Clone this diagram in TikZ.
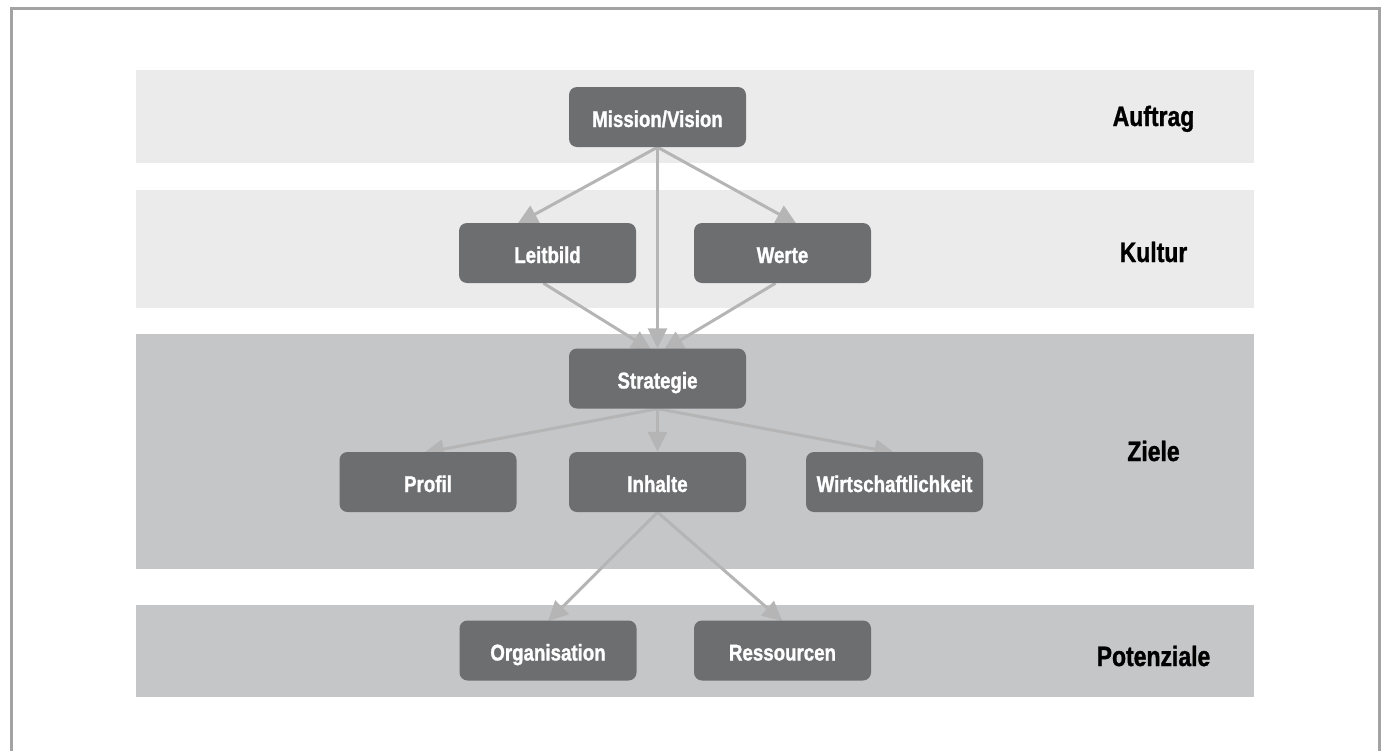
\documentclass[tikz,border=0pt]{standalone}
\usepackage{fontspec}
\newfontfamily\condfont{Liberation Sans}[FakeStretch=0.82, BoldFeatures={FakeBold=1.2}]
\usetikzlibrary{arrows.meta}
\definecolor{bandlight}{HTML}{EBEBEB}
\definecolor{banddark}{HTML}{C5C6C8}
\definecolor{boxgray}{HTML}{6D6E70}
\definecolor{arrowgray}{HTML}{B5B5B5}
\definecolor{framegray}{HTML}{A3A3A3}
\pgfdeclarelayer{bands}
\pgfdeclarelayer{arrows}
\pgfsetlayers{bands,arrows,main}
\begin{document}
\begin{tikzpicture}[x=1pt,y=-1pt,
  box/.style={fill=boxgray, rounded corners=8pt, minimum width=177pt, minimum height=60pt,
    inner sep=0pt, text=white, font=\condfont\bfseries\fontsize{22.8}{24}\selectfont,
    text height=20pt, text depth=0pt},
  lab/.style={anchor=base, inner sep=0pt, text=black,
    font=\condfont\bfseries\fontsize{28}{30}\selectfont},
  arr/.style={draw=arrowgray, line width=3pt, -{Triangle[length=20pt,width=19pt]}},
  bandL/.style={fill=bandlight},
  bandD/.style={fill=banddark}]
\useasboundingbox (0,0) rectangle (1384,750);
\clip (0,0) rectangle (1384,750);

% boxes
\node[box] (mission) at (657.5,117) {Mission/Vision};
\node[box] (leitbild) at (547.5,253) {Leitbild};
\node[box] (werte) at (782.5,253) {Werte};
\node[box] (strategie) at (657.5,378.5) {Strategie};
\node[box] (profil) at (428,482) {Profil};
\node[box] (inhalte) at (657.5,482) {Inhalte};
\node[box] (wirt) at (894.5,482) {Wirtschaftlichkeit};
\node[box] (organisation) at (548,650.5) {Organisation};
\node[box] (ressourcen) at (782.5,650.5) {Ressourcen};

% level labels
\node[lab] (auftrag) at (1153.5,126) {Auftrag};
\node[lab] (kultur) at (1153.5,262) {Kultur};
\node[lab] (ziele) at (1153.5,461) {Ziele};
\node[lab] (potenziale) at (1153.5,666) {Potenziale};

\begin{pgfonlayer}{bands}
  \fill[bandL] (136,70) rectangle (1254,163);
  \fill[bandL] (136,190) rectangle (1254,307.5);
  \fill[bandD] (136,334) rectangle (1254,569);
  \fill[bandD] (136,605) rectangle (1254,697);
  \draw[framegray, line width=3pt] (11,8.7) rectangle (1379,780);
\end{pgfonlayer}

\begin{pgfonlayer}{arrows}
  \draw[arr] (mission.south) -- ([xshift=-30pt,yshift=-1pt]leitbild.north);
  \draw[arr] (mission.south) -- ([xshift=14pt,yshift=-1pt]werte.north);
  \draw[arr] (mission.south) -- (strategie.north);
  \draw[arr] ([xshift=-4pt]leitbild.south) -- ([xshift=-6pt,yshift=-2pt]strategie.north);
  \draw[arr] ([xshift=-7pt]werte.south) -- ([xshift=6pt,yshift=-2pt]strategie.north);
  \draw[arr] (strategie.south) -- ([xshift=-4pt,yshift=-1pt]profil.north);
  \draw[arr] (strategie.south) -- (inhalte.north);
  \draw[arr] (strategie.south) -- ([yshift=-1pt]wirt.north);
  \draw[arr] (inhalte.south) -- ([yshift=-1pt]organisation.north);
  \draw[arr] (inhalte.south) -- ([yshift=-1pt]ressourcen.north);
\end{pgfonlayer}
\end{tikzpicture}
\end{document}
